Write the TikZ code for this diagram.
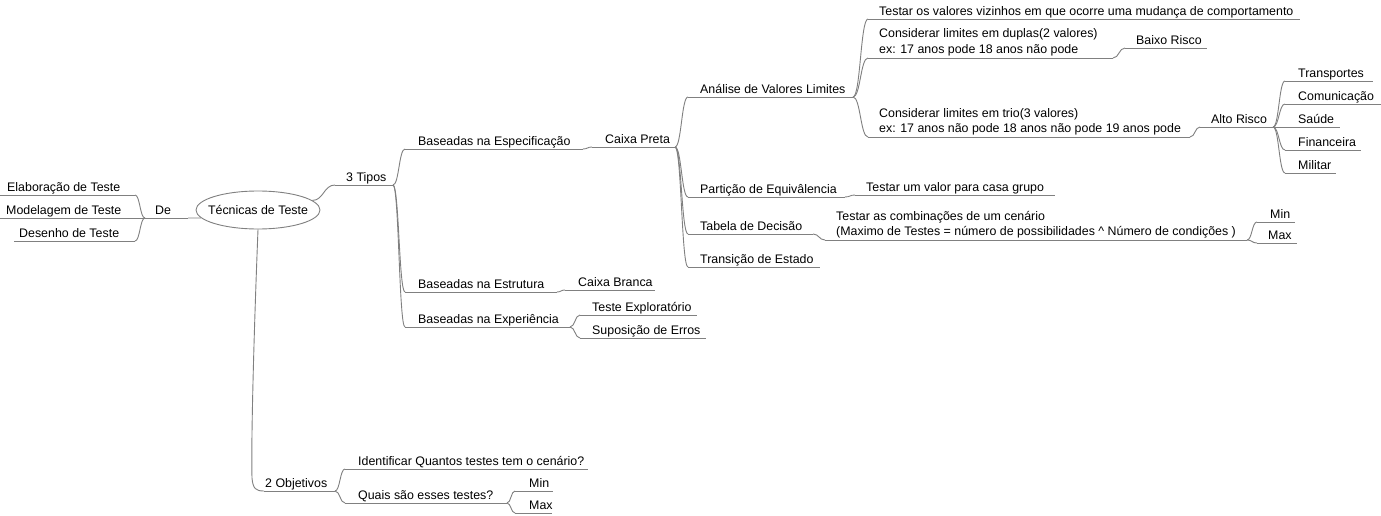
\documentclass[tikz,border=0pt]{standalone}
\usepackage{fontspec}
\setmainfont{Liberation Sans}
\usetikzlibrary{calc,shapes.geometric}
\definecolor{lg}{RGB}{128,128,128}
\tikzset{
  lc/.style={draw=lg, line width=0.9pt},
  txt/.style={anchor=base west, inner sep=0pt, font=\fontsize{12.4}{15.5}\selectfont, align=left},
  conn/.style={lc, to path={let \p1=(\tikztostart), \p2=(\tikztotarget), \p3=($(\p1)!0.5!(\p2)$) in .. controls (\x3,\y1) and (\x3,\y2) .. (\tikztotarget)}},
  centre/.style={ellipse, draw=lg, line width=0.9pt, minimum width=124pt, minimum height=38pt, inner xsep=-7pt, inner ysep=0pt, font=\fontsize{12.4}{15.5}\selectfont}
}
% name, text x, baseline y (last line), underline x1, underline x2, underline y, text
\newcommand\mmtopic[7]{%
  \node[txt] (#1) at (#2,#3) {#7};
  \coordinate (#1-l) at (#4,#6);
  \coordinate (#1-r) at (#5,#6);
  \draw[lc] (#1-l) -- (#1-r);
}
\begin{document}
\begin{tikzpicture}[x=1pt,y=-1pt]
\useasboundingbox[fill=white] (0,0) rectangle (1381,516);
\node[centre] (tech) at (258,210) {Técnicas de Teste};
\mmtopic{elab}{7}{191.5}{0}{135}{195}{Elaboração de Teste}
\mmtopic{model}{6}{214.5}{0}{140}{218}{Modelagem de Teste}
\mmtopic{desen}{19}{237.5}{14}{135}{241}{Desenho de Teste}
\mmtopic{de}{155}{214.5}{145}{188}{218}{De}
\mmtopic{tipos}{346}{181.5}{335}{393}{185}{3 Tipos}
\mmtopic{obj}{265}{487.5}{264}{335}{491}{2 Objetivos}
\mmtopic{espec}{418}{145.5}{405}{583}{149}{Baseadas na Especificação}
\mmtopic{preta}{605}{143.5}{592}{675}{147}{Caixa Preta}
\mmtopic{estrut}{418}{288.5}{405}{557}{292}{Baseadas na Estrutura}
\mmtopic{branca}{578}{286.5}{565}{655}{290}{Caixa Branca}
\mmtopic{exper}{418}{323.5}{405}{570}{327}{Baseadas na Experiência}
\mmtopic{explor}{592}{311.5}{580}{697}{315}{Teste Exploratório}
\mmtopic{supos}{592}{334.5}{580}{706}{338}{Suposição de Erros}
\mmtopic{analise}{700}{93.5}{688}{853}{97}{Análise de Valores Limites}
\mmtopic{partic}{700}{193.5}{688}{845}{197}{Partição de Equivâlencia}
\mmtopic{tabela}{700}{230.5}{688}{813}{234}{Tabela de Decisão}
\mmtopic{transic}{700}{263.5}{688}{820}{267}{Transição de Estado}
\mmtopic{vizin}{879}{15.5}{868}{1300}{19}{Testar os valores vizinhos em que ocorre uma mudança de comportamento}
\mmtopic{duplas}{879}{53.5}{868}{1113}{58}{Considerar limites em duplas(2 valores)\\ex: 17 anos pode 18 anos não pode}
\mmtopic{trio}{879}{132.5}{868}{1190}{137}{Considerar limites em trio(3 valores)\\ex: 17 anos não pode 18 anos não pode 19 anos pode}
\mmtopic{baixo}{1136}{44.5}{1125}{1207}{48}{Baixo Risco}
\mmtopic{alto}{1211}{123.5}{1200}{1273}{127}{Alto Risco}
\mmtopic{transp}{1298}{77.5}{1285}{1373}{81}{Transportes}
\mmtopic{comun}{1298}{100.5}{1285}{1381}{104}{Comunicação}
\mmtopic{saude}{1298}{123.5}{1285}{1340}{127}{Saúde}
\mmtopic{financ}{1298}{146.5}{1285}{1361}{150}{Financeira}
\mmtopic{milit}{1298}{169.5}{1285}{1336}{173}{Militar}
\mmtopic{valor}{866}{191.5}{855}{1055}{195}{Testar um valor para casa grupo}
\mmtopic{combin}{836}{235.5}{825}{1247}{240}{Testar as combinações de um cenário\\(Maximo de Testes = número de possibilidades \^{} Número de condições )}
\mmtopic{minA}{1270}{218.5}{1257}{1295}{222}{Min}
\mmtopic{maxA}{1268}{239.5}{1257}{1297}{243}{Max}
\mmtopic{ident}{358}{465.5}{345}{588}{469}{Identificar Quantos testes tem o cenário?}
\mmtopic{quais}{358}{499.5}{345}{507}{503}{Quais são esses testes?}
\mmtopic{minB}{529}{487.5}{515}{553}{491}{Min}
\mmtopic{maxB}{529}{509.5}{515}{552}{513}{Max}
% connectors
\draw[conn] (elab-r) to (de-l);
\draw[conn] (model-r) to (de-l);
\draw[conn] (desen-r) to (de-l);
\draw[conn] (de-r) to (tech.188);
\draw[conn] (tech.10) to (tipos-l);
\draw[lc] (tech.south) .. controls (254,330) and (251,440) .. (252,478) .. controls (253,489) and (256,491) .. (obj-l);
\draw[conn] (tipos-r) to (espec-l);
\draw[conn] (tipos-r) to (estrut-l);
\draw[conn] (tipos-r) to (exper-l);
\draw[conn] (espec-r) to (preta-l);
\draw[conn] (estrut-r) to (branca-l);
\draw[conn] (exper-r) to (explor-l);
\draw[conn] (exper-r) to (supos-l);
\draw[conn] (preta-r) to (analise-l);
\draw[conn] (preta-r) to (partic-l);
\draw[conn] (preta-r) to (tabela-l);
\draw[conn] (preta-r) to (transic-l);
\draw[conn] (analise-r) to (vizin-l);
\draw[conn] (analise-r) to (duplas-l);
\draw[conn] (analise-r) to (trio-l);
\draw[conn] (duplas-r) to (baixo-l);
\draw[conn] (trio-r) to (alto-l);
\draw[conn] (alto-r) to (transp-l);
\draw[conn] (alto-r) to (comun-l);
\draw[conn] (alto-r) to (saude-l);
\draw[conn] (alto-r) to (financ-l);
\draw[conn] (alto-r) to (milit-l);
\draw[conn] (partic-r) to (valor-l);
\draw[conn] (tabela-r) to (combin-l);
\draw[conn] (combin-r) to (minA-l);
\draw[conn] (combin-r) to (maxA-l);
\draw[conn] (obj-r) to (ident-l);
\draw[conn] (obj-r) to (quais-l);
\draw[conn] (quais-r) to (minB-l);
\draw[conn] (quais-r) to (maxB-l);
\end{tikzpicture}
\end{document}
